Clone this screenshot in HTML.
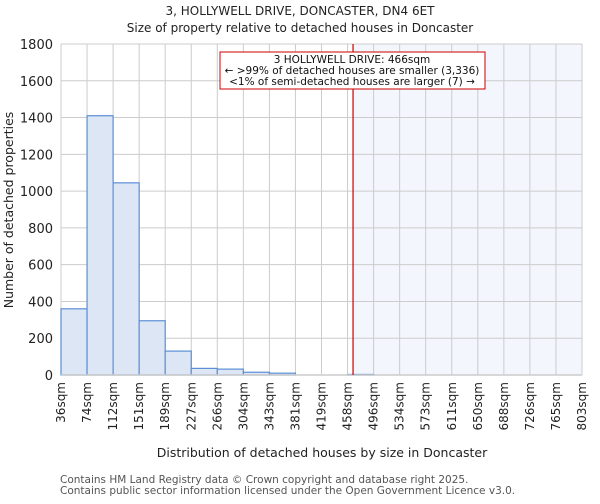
<!DOCTYPE html>
<html><head><meta charset="utf-8"><style>
body{margin:0;background:#fff;font-family:"DejaVu Sans","Liberation Sans",sans-serif;}
svg text{font-family:"DejaVu Sans","Liberation Sans",sans-serif;}
</style></head><body>
<svg id="chart" width="600" height="500" xmlns="http://www.w3.org/2000/svg">
<text x="300" y="15" font-size="12" text-anchor="middle" fill="#222">3, HOLLYWELL DRIVE, DONCASTER, DN4 6ET</text>
<text x="300" y="32" font-size="12" text-anchor="middle" fill="#222">Size of property relative to detached houses in Doncaster</text>
<g id="plot"></g>
<text x="322" y="457" font-size="12.5" text-anchor="middle" fill="#222">Distribution of detached houses by size in Doncaster</text>
<text transform="translate(13,210) rotate(-90)" font-size="12.5" text-anchor="middle" fill="#222">Number of detached properties</text>
<text x="60" y="483" font-size="10.5" fill="#555">Contains HM Land Registry data © Crown copyright and database right 2025.</text>
<text x="60" y="494" font-size="10.5" fill="#555">Contains public sector information licensed under the Open Government Licence v3.0.</text>
</svg>
<script>
const binLabels=["36sqm","74sqm","112sqm","151sqm","189sqm","227sqm","266sqm","304sqm","343sqm","381sqm","419sqm","458sqm","496sqm","534sqm","573sqm","611sqm","650sqm","688sqm","726sqm","765sqm","803sqm"];
const binEdges=[36,74,112,151,189,227,266,304,343,381,419,458,496,534,573,611,650,688,726,765,803];
const counts=[360,1410,1045,295,130,36,32,15,10,0,0,3,0,0,0,0,0,0,0,0];
const yTicks=[0,200,400,600,800,1000,1200,1400,1600,1800];
const propertySize=466;
const X0=61,X1=582,Y0=375,Y1=44,YMAX=1800;
const NS="http://www.w3.org/2000/svg";
const g=document.getElementById('plot');
const bw=(X1-X0)/counts.length;
function xIdx(i){return X0+i*bw;}
function xVal(v){for(let i=0;i<binEdges.length-1;i++){if(v<=binEdges[i+1])return xIdx(i)+(v-binEdges[i])/(binEdges[i+1]-binEdges[i])*bw;}return X1;}
function y(v){return Y0-(v/YMAX)*(Y0-Y1);}
function el(t,a){const e=document.createElementNS(NS,t);for(const k in a)e.setAttribute(k,a[k]);g.appendChild(e);return e;}
const px=xVal(propertySize);
let sh=el('rect',{x:px,y:Y1,width:X1-px,height:Y0-Y1,fill:'#f3f6fd'});


for(let i=0;i<=counts.length;i++){let l=el('line',{x1:xIdx(i),x2:xIdx(i),y1:Y1,y2:Y0,stroke:'#cccccc','stroke-width':1});

}
yTicks.forEach(t=>{let l=el('line',{x1:X0,x2:X1,y1:y(t),y2:y(t),stroke:'#cccccc','stroke-width':1});


let tx=el('text',{x:X0-8,y:y(t)+5,'font-size':13,'text-anchor':'end',fill:'#222'});tx.textContent=t;

});
counts.forEach((c,i)=>{if(c<=0)return;let r=el('rect',{x:xIdx(i),y:y(c),width:bw,height:Y0-y(c),fill:'#dce6f5',stroke:'#5b8fd6','stroke-width':1.2});

});
binLabels.forEach((b,i)=>{let tx=el('text',{transform:`translate(${xIdx(i)+4},382) rotate(-90)`,'font-size':12,'text-anchor':'end',fill:'#222'});tx.textContent=b;

});
let ax=el('line',{x1:X0,x2:X1,y1:Y0,y2:Y0,stroke:'#cccccc','stroke-width':1.5});


let rl=el('line',{x1:px,x2:px,y1:Y1,y2:Y0,stroke:'#cc0000','stroke-width':1.2});


let bx=el('rect',{x:220,y:52,width:265,height:37,fill:'#fff',stroke:'#cc0000','stroke-width':1});


["3 HOLLYWELL DRIVE: 466sqm","← >99% of detached houses are smaller (3,336)","<1% of semi-detached houses are larger (7) →"].forEach((s,i)=>{let t=el('text',{x:352,y:63+i*11,'font-size':10.5,'text-anchor':'middle',fill:'#111'});t.textContent=s;

});
</script>
</body></html>
